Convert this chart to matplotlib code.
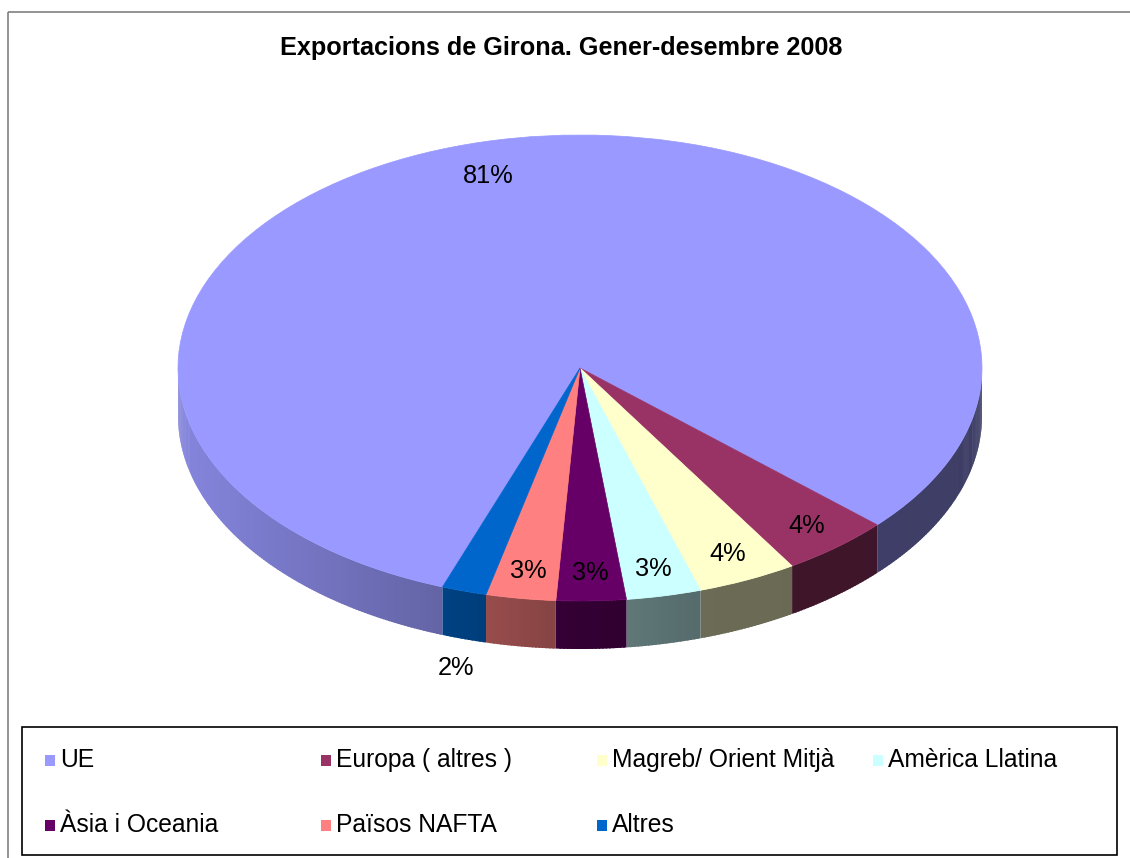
import numpy as np
import matplotlib.pyplot as plt
from matplotlib.patches import Rectangle
from matplotlib.collections import PolyCollection
from matplotlib.colors import to_rgb

plt.rcParams['font.family'] = ['Liberation Sans', 'DejaVu Sans']

## Dades
labels = ['UE', 'Europa ( altres )', 'Magreb/ Orient Mitjà', 'Amèrica Llatina',
          'Àsia i Oceania', 'Països NAFTA', 'Altres']
values = [81.2, 4.4, 4.0, 3.0, 2.8, 2.8, 1.8]
colors = ['#9999FF', '#993366', '#FFFFCC', '#CCFFFF', '#660066', '#FF8080', '#0066CC']
title = 'Exportacions de Girona. Gener-desembre 2008'

## Geometria (pixels)
W, H = 1130, 858
cx, cy = 580, 368      # centre de l'el·lipse
rx, ry = 402, 233      # radis
thick = 48 / ry        # gruix del pastis en unitats de dades
start = 250

fig = plt.figure(figsize=(W / 100, H / 100), dpi=100)

# fons: marc, titol, llegenda
bg = fig.add_axes([0, 0, 1, 1])
bg.set_xlim(0, W)
bg.set_ylim(H, 0)
bg.axis('off')
bg.add_patch(Rectangle((8, 12), W, H, fill=False, edgecolor='#808080', lw=1.2))
bg.text(561, 48, title, ha='center', va='center', fontsize=18.2, fontweight='bold')

bg.add_patch(Rectangle((22, 727), 1095, 128, fill=False, edgecolor='black', lw=1.2))
for i, (lab, col) in enumerate(zip(labels, colors)):
    row, c = divmod(i, 4)
    x0 = 45 + c * 276
    y0 = 760 + row * 65
    bg.add_patch(Rectangle((x0, y0 - 5.5), 10, 11, facecolor=col, edgecolor='none'))
    bg.text(x0 + 15, y0, lab, ha='left', va='center', fontsize=17.7)

# pastis
ax = fig.add_axes([0, 0, 1, 1])
ax.patch.set_visible(False)

def shade(x):
    return np.interp(x, [-1, -0.4, 0, 0.3, 1], [0.87, 0.67, 0.5, 0.42, 0.40])

polys = []
fcols = []
fracs = np.array(values) / sum(values)
hi = start
for v, col in zip(fracs, colors):
    lo = hi - 360 * v
    base = np.array(to_rgb(col))
    for k in (-1, 0, 1):
        a = max(lo, 180 + 360 * k)
        b = min(hi, 360 + 360 * k)
        if b <= a:
            continue
        n = max(2, int((b - a) / 0.5) + 1)
        ts = np.linspace(a, b, n)
        for t0, t1 in zip(ts[:-1], ts[1:]):
            tm = np.radians((t0 + t1) / 2)
            # petit solapament per evitar costures
            t1e = min(t1 + 0.3, b)
            arc = np.radians(np.linspace(t0, t1e, 3))
            top = [(np.cos(t), np.sin(t)) for t in arc]
            bot = [(np.cos(t), np.sin(t) - thick) for t in arc[::-1]]
            polys.append(top + bot)
            fcols.append(base * shade(np.cos(tm)))
    hi = lo

side = PolyCollection(polys, facecolors=fcols, linewidths=0, zorder=0.5)
ax.add_collection(side)

wedges, texts, autotexts = ax.pie(values, colors=colors, startangle=start, counterclock=False,
                                  autopct=lambda p: f'{p:.0f}%', pctdistance=0.88,
                                  wedgeprops=dict(linewidth=0.5),
                                  textprops=dict(fontsize=18.3))
for w in wedges:
    w.set_edgecolor(w.get_facecolor())

# posicio d'etiquetes com a l'original
mid0 = np.radians(start - 360 * fracs[0] / 2)
autotexts[0].set_position((0.95 * np.cos(mid0), 0.85 * np.sin(mid0)))
mid = np.radians(start - 360 * (1 - fracs[-1] / 2))
autotexts[-1].set_position((1.07 * np.cos(mid), 1.13 * np.sin(mid) - thick))

ax.set_aspect('auto')
ax.set_position([0, 0, 1, 1])
ax.set_xlim(-cx / rx, (W - cx) / rx)
ax.set_ylim((cy - H) / ry, cy / ry)
ax.axis('off')

fig.savefig('out.png', dpi=100)
